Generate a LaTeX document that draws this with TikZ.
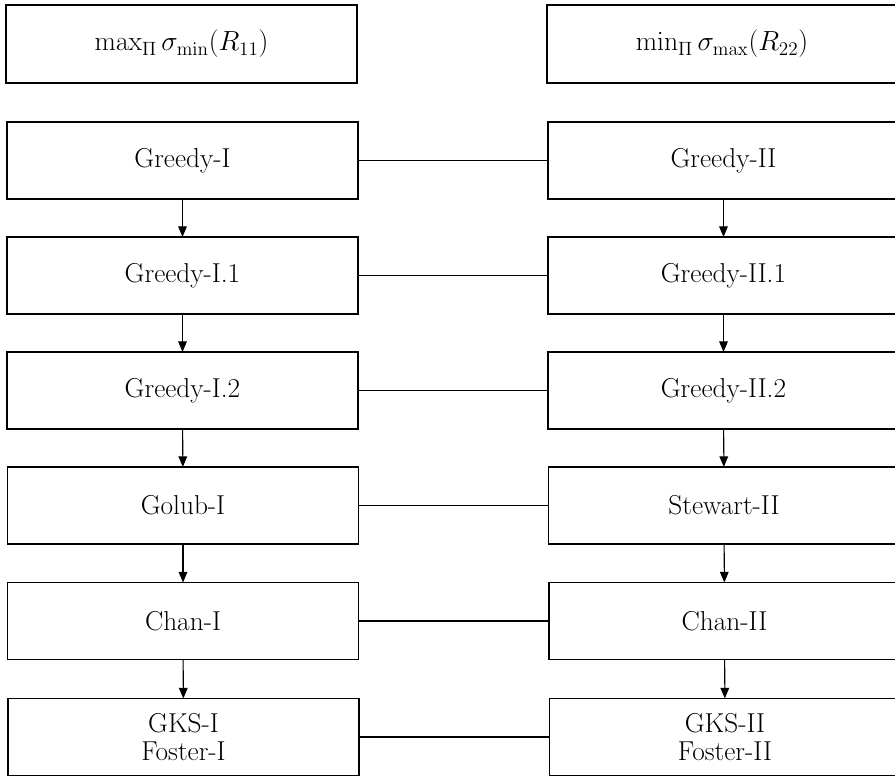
\documentclass[tikz,border=0pt]{standalone}
\usetikzlibrary{arrows.meta}
\begin{document}
\begin{tikzpicture}[x=0.75pt,y=-0.75pt,
  box/.style={draw,line width=0.8pt,rectangle,minimum width=263.25pt,minimum height=57.75pt,inner sep=0pt,outer sep=0pt,align=center,font=\fontsize{20.5}{20.5}\selectfont},
  headbox/.style={box,line width=1.5pt,minimum height=58.5pt,font=\fontsize{22}{24}\selectfont},
  arr/.style={-{Triangle[length=8pt,width=6.5pt]},line width=0.8pt},
  link/.style={line width=0.8pt}]
\useasboundingbox (0,0) rectangle (895,777);
\node[headbox] (h1) at (181.5,44) {$\max_\Pi \sigma_{\min}(R_{11})$};
\node[headbox] (h2) at (722,44) {$\min_\Pi \sigma_{\max}(R_{22})$};
\node[box] (l1) at (182.5,160.5) {Greedy-I};
\node[box] (l2) at (182.5,275.5) {Greedy-I.1};
\node[box] (l3) at (182.5,390.5) {Greedy-I.2};
\node[box] (l4) at (183,505.5) {Golub-I};
\node[box] (l5) at (183,621) {Chan-I};
\node[box] (l6) at (183.5,737) {GKS-I\\Foster-I};
\node[box] (r1) at (723.5,160.5) {Greedy-II};
\node[box] (r2) at (723.5,275.5) {Greedy-II.1};
\node[box] (r3) at (723.5,390.5) {Greedy-II.2};
\node[box] (r4) at (724,505.5) {Stewart-II};
\node[box] (r5) at (724.5,621) {Chan-II};
\node[box] (r6) at (725,737) {GKS-II\\Foster-II};
\foreach \a/\b in {l1/l2,l2/l3,l3/l4,l4/l5,l5/l6,r1/r2,r2/r3,r3/r4,r4/r5,r5/r6}
  \draw[arr] (\a) -- (\b);
\foreach \i in {1,...,6}
  \draw[link] (l\i.east) -- (r\i.west);
\end{tikzpicture}
\end{document}
